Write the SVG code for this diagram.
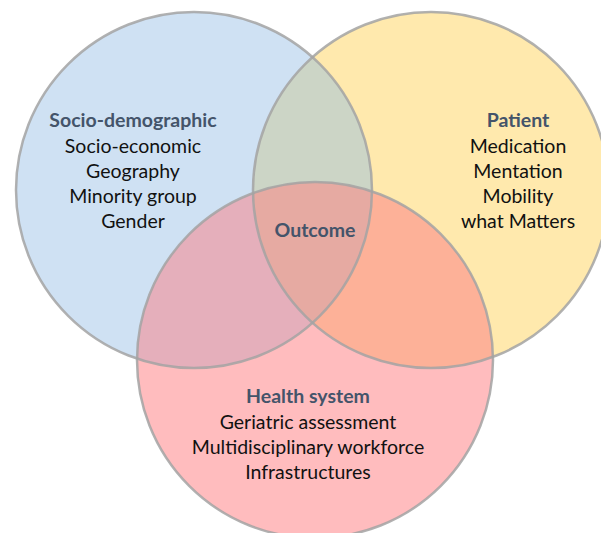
<svg xmlns="http://www.w3.org/2000/svg" width="601" height="533" viewBox="0 0 601 533">
  <style>
    .t { font-family: Lato, "Open Sans", "Liberation Sans", sans-serif; font-size: 19.5px; fill: #111111; text-anchor: middle; }
    .h { font-weight: bold; fill: #44546a; }
    .ring { fill: none; stroke: #a3a3a3; stroke-width: 2.5; stroke-opacity: 0.85; }
  </style>
  <defs>
    <clipPath id="cB"><circle cx="194" cy="190" r="178"/></clipPath>
    <clipPath id="cY"><circle cx="431" cy="190" r="178"/></clipPath>
    <clipPath id="cP"><circle cx="315" cy="360" r="178"/></clipPath>
  </defs>
  <rect width="601" height="533" fill="#ffffff"/>
  <g id="fills">
    <circle cx="194" cy="190" r="178" fill="#cfe1f3"/>
    <circle cx="431" cy="190" r="178" fill="#ffe9ad"/>
    <circle cx="315" cy="360" r="178" fill="#ffbcbe"/>
    <g clip-path="url(#cB)">
      <circle cx="431" cy="190" r="178" fill="#ccd5c6"/>
      <circle cx="315" cy="360" r="178" fill="#e5afbb"/>
    </g>
    <g clip-path="url(#cY)">
      <circle cx="315" cy="360" r="178" fill="#fdb198"/>
      <g clip-path="url(#cB)">
        <circle cx="315" cy="360" r="178" fill="#e6aaa2"/>
      </g>
    </g>
  </g>
  <g id="socio-demographic">
    <circle class="ring" cx="194" cy="190" r="178"/>
    <text class="t h" x="133" y="127">Socio-demographic</text>
    <text class="t" x="133" y="153">Socio-economic</text>
    <text class="t" x="133" y="178">Geography</text>
    <text class="t" x="133" y="203">Minority group</text>
    <text class="t" x="133" y="228">Gender</text>
  </g>
  <g id="patient">
    <circle class="ring" cx="431" cy="190" r="178"/>
    <text class="t h" x="518" y="127">Patient</text>
    <text class="t" x="518" y="153">Medication</text>
    <text class="t" x="518" y="178">Mentation</text>
    <text class="t" x="518" y="203">Mobility</text>
    <text class="t" x="518" y="228">what Matters</text>
  </g>
  <g id="health-system">
    <circle class="ring" cx="315" cy="360" r="178"/>
    <text class="t h" x="308" y="403">Health system</text>
    <text class="t" x="308" y="429">Geriatric assessment</text>
    <text class="t" x="308" y="454">Multidisciplinary workforce</text>
    <text class="t" x="308" y="479">Infrastructures</text>
  </g>
  <g id="outcome">
    <text class="t h" x="315" y="237">Outcome</text>
  </g>
  <g id="connectors"></g>
</svg>
